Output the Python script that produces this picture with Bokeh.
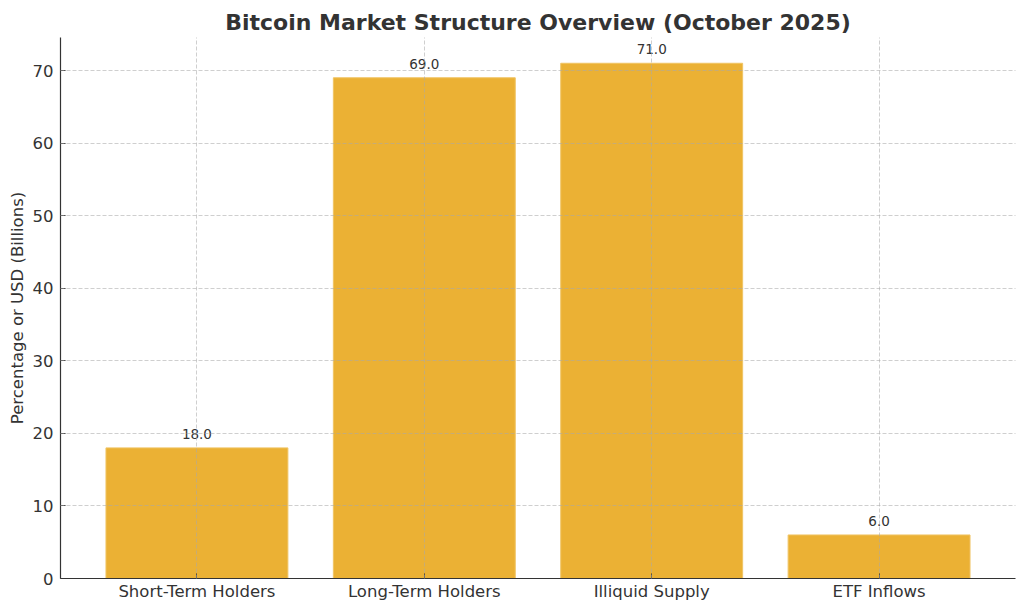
from bokeh.plotting import figure
from bokeh.models import Range1d, FactorRange, SingleIntervalTicker, ColumnDataSource
from bokeh.embed import file_html
from bokeh.resources import INLINE

categories = ["Short-Term Holders", "Long-Term Holders", "Illiquid Supply", "ETF Inflows"]
values = [18.0, 69.0, 71.0, 6.0]
labels = [f"{v:.1f}" for v in values]

src = ColumnDataSource(dict(cat=categories, val=values, lab=labels,
                            ly=[v + 1 for v in values]))

p = figure(x_range=FactorRange(*categories, range_padding=0.05, range_padding_units="percent"),
           y_range=Range1d(0, 74.55),
           width=1016, height=604, output_backend="svg", toolbar_location=None,
           min_border_left=60, min_border_right=1, min_border_top=37, min_border_bottom=26)

p.title.text = "Bitcoin Market Structure Overview (October 2025)"
p.title.align = "center"
p.title.text_font = "DejaVu Sans"
p.title.text_font_style = "bold"
p.title.text_font_size = "22px"
p.title.text_color = "#333333"
p.title.standoff = 5
p.title.offset = 0

p.vbar(x="cat", top="val", width=0.8, source=src, fill_color="#EBB134",
       line_color="#F0C464", line_width=1)
p.text(x="cat", y="ly", text="lab", source=src, text_align="center",
       text_baseline="alphabetic", text_font_size="13.5px", text_color="#333333",
       text_font={"value": "DejaVu Sans"}, y_offset=-7)

p.outline_line_color = None
for g in (p.xgrid, p.ygrid):
    g.grid_line_color = "#A8A8A8"
    g.grid_line_alpha = 0.7
    g.grid_line_dash = "4 2"
    g.grid_line_width = 0.8
    g.level = "overlay"

p.yaxis.ticker = SingleIntervalTicker(interval=10)
p.yaxis.axis_label = "Percentage or USD (Billions)"
for ax in (p.xaxis[0], p.yaxis[0]):
    ax.axis_line_color = "#333333"
    ax.axis_line_width = 1.2
    ax.major_tick_line_color = "#333333"
    ax.major_tick_in = 5
    ax.major_tick_out = 0
    ax.minor_tick_line_color = None
    ax.major_label_text_font = "DejaVu Sans"
    ax.major_label_text_font_size = "16.5px"
    ax.major_label_text_color = "#333333"
    ax.major_label_standoff = 3
    ax.axis_label_text_font = "DejaVu Sans"
    ax.axis_label_text_font_size = "16.5px"
    ax.axis_label_text_font_style = "normal"
    ax.axis_label_text_color = "#333333"
    ax.axis_label_standoff = 3

open("out.html", "w").write(file_html(p, INLINE))
